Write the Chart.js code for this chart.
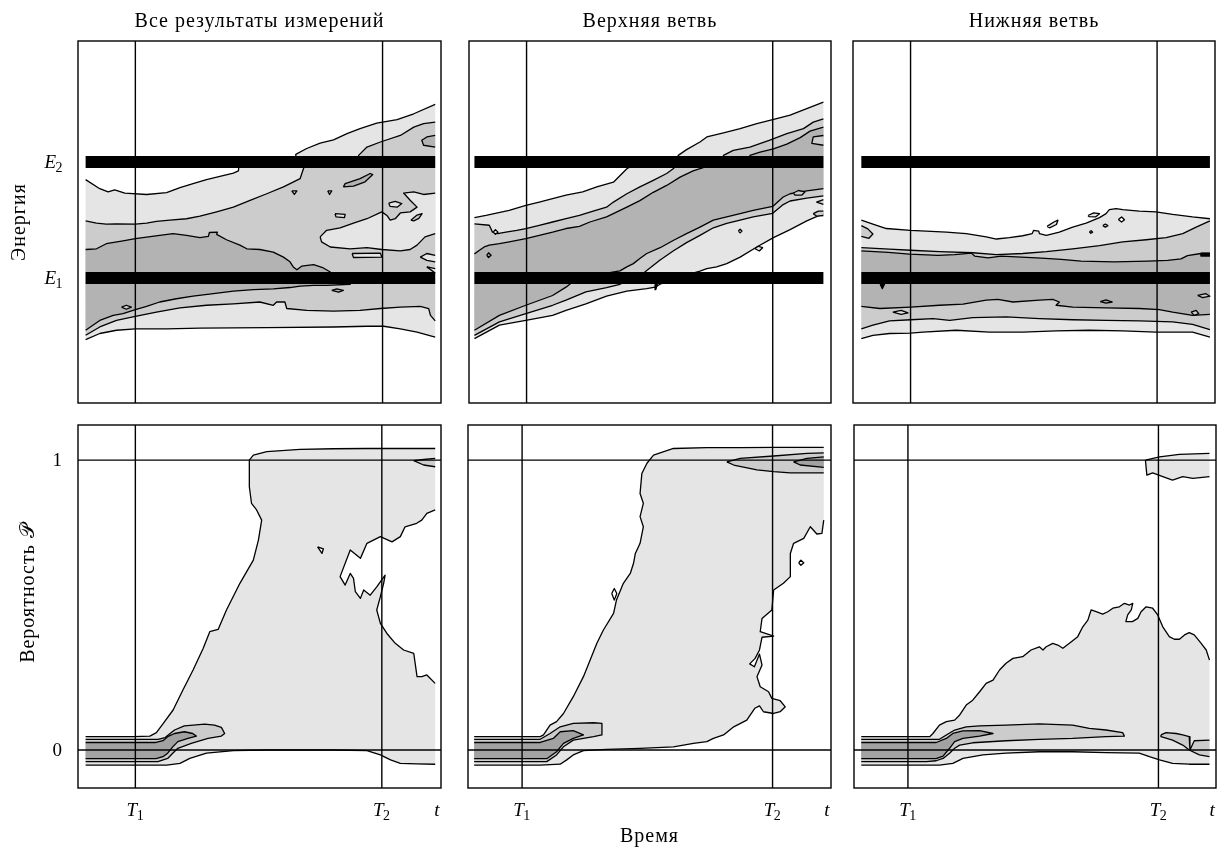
<!DOCTYPE html>
<html lang="ru">
<head>
<meta charset="utf-8">
<title>Энергия и вероятность</title>
<script src="https://cdn.jsdelivr.net/npm/chart.js@4/dist/chart.umd.min.js"></script>
<style>
  html, body { margin: 0; padding: 0; background: #fff; }
  #wrap { position: relative; width: 1219px; height: 847px; }
  #wrap canvas { position: absolute; left: 0; top: 0; }
</style>
</head>
<body>
<div id="wrap">
  <canvas id="c0" width="1219" height="847"></canvas>
  <canvas id="c1" width="1219" height="847"></canvas>
  <canvas id="c2" width="1219" height="847"></canvas>
  <canvas id="c3" width="1219" height="847"></canvas>
  <canvas id="c4" width="1219" height="847"></canvas>
  <canvas id="c5" width="1219" height="847"></canvas>
</div>
<script>
// time runs 0..100 across every frame, energy 0..100 up the top frames,
// probability is plotted as is in the bottom frames
const energyLevels = [34.5, 66.6]
const probLines = [0, 1]
const timeT1 = [15.8, 15.9, 15.9, 15.8, 14.9, 14.9]
const timeT2 = [83.9, 83.9, 84.0, 83.7, 83.9, 84.1]
const timeEnd = 98.9
const columnTitles = ['Все результаты измерений', 'Верхняя ветвь', 'Нижняя ветвь']

// ---- top left: all measurements ----
const p1LightTop = [[2.1, 61.7], [6.0, 59.2], [8.3, 58.3], [10.1, 58.9], [12.9, 58.0], [18.9, 57.6], [24.4, 58.1], [28.1, 59.5], [31.7, 60.6], [35.4, 61.7], [39.1, 62.6], [42.8, 63.5], [44.2, 64.1], [44.4, 66.5], [59.8, 66.5], [60.0, 68.7], [63.0, 70.3], [66.7, 71.8], [70.4, 72.7], [74.1, 74.4], [77.7, 75.8], [82.3, 77.3], [87.9, 78.3], [92.5, 79.9], [98.4, 82.5]]
const p1LightBottom = [[2.1, 17.5], [6.0, 19.2], [10.6, 20.1], [15.8, 20.5], [24.4, 20.5], [33.6, 20.7], [52.0, 20.8], [70.4, 21.0], [79.6, 21.2], [84.2, 21.2], [88.8, 20.5], [93.4, 19.6], [98.4, 18.2]]
const p1MidTop = [[2.1, 50.3], [5.1, 49.7], [7.8, 49.4], [10.6, 49.5], [15.8, 49.4], [18.9, 49.7], [21.6, 50.2], [25.3, 50.5], [29.9, 50.9], [33.6, 51.6], [38.2, 52.8], [42.8, 54.1], [47.4, 56.0], [52.0, 57.8], [56.6, 59.7], [61.2, 62.0], [62.1, 64.7], [63.0, 66.5], [77.3, 66.5], [77.3, 68.4], [79.6, 70.7], [83.3, 72.1], [88.8, 73.9], [92.5, 76.2], [95.2, 77.2], [98.4, 77.6]]
const p1MidBottom = [[2.1, 18.7], [6.0, 21.0], [10.6, 22.8], [15.8, 23.9], [21.6, 25.1], [28.1, 26.3], [35.4, 27.0], [42.8, 27.4], [50.1, 27.9], [53.8, 27.0], [54.7, 27.9], [57.0, 27.9], [57.5, 26.1], [63.0, 25.6], [70.4, 25.4], [77.7, 25.6], [83.3, 26.1], [88.8, 26.5], [94.3, 26.7], [96.6, 26.1], [97.1, 24.2], [98.4, 22.7]]
const p1DarkTop = [[2.1, 42.4], [5.1, 42.6], [7.8, 44.0], [12.4, 44.8], [15.8, 45.4], [22.5, 46.3], [26.2, 46.8], [29.9, 46.3], [33.6, 45.7], [35.9, 46.0], [36.2, 47.1], [38.4, 47.2], [38.2, 46.6], [40.9, 45.1], [44.6, 43.6], [46.5, 42.6], [50.1, 42.4], [53.8, 41.7], [56.6, 40.3], [58.4, 39.0], [59.3, 37.6], [60.3, 36.8], [61.6, 37.8], [64.9, 38.2], [67.6, 37.3], [69.5, 36.2], [70.4, 34.5], [75.0, 34.5], [75.0, 32.8]]
const p1DarkBottom = [[2.1, 20.1], [4.1, 21.5], [6.0, 22.8], [9.7, 24.2], [12.4, 24.7], [15.8, 25.8], [18.9, 26.7], [22.5, 27.9], [27.1, 28.8], [31.7, 29.5], [37.3, 30.2], [42.8, 30.9], [48.3, 31.3], [53.8, 31.5], [58.4, 31.9], [61.2, 32.3], [64.9, 32.5], [68.5, 32.5]]
const p1LightIslands = [
  [[66.7, 45.9], [68.5, 47.7], [72.2, 48.4], [75.9, 49.7], [79.6, 50.9], [83.7, 52.8], [85.1, 51.8], [86.0, 50.5], [87.4, 50.9], [88.8, 52.5], [91.5, 52.8], [93.4, 54.1], [91.5, 56.0], [89.7, 58.0], [92.5, 58.3], [95.2, 57.6], [98.4, 58.0], [98.4, 46.8], [95.6, 45.9], [93.4, 43.6], [91.5, 42.4], [88.8, 42.0], [83.7, 42.4], [79.6, 42.9], [75.0, 42.6], [69.5, 43.1], [67.1, 44.5]],
  [[85.6, 55.2], [87.4, 55.7], [89.2, 55.1], [87.9, 54.1], [86.0, 54.3]],
  [[58.9, 58.6], [60.3, 58.6], [59.6, 57.6]],
  [[68.8, 58.6], [69.9, 58.6], [69.3, 57.6]],
  [[70.8, 52.3], [73.6, 52.1], [73.4, 51.2], [71.1, 51.4]],
  [[75.5, 41.3], [83.3, 41.4], [83.7, 40.3], [75.9, 40.2]],
  [[96.1, 37.6], [98.4, 37.1], [98.4, 35.9]],
  [[94.3, 40.3], [96.1, 41.3], [98.4, 40.8], [98.4, 39.0], [96.1, 39.4]]
]
const p1MidIslands = [
  [[91.7, 50.5], [93.4, 51.9], [94.8, 52.3], [93.9, 51.0], [92.5, 50.3]],
  [[12.0, 26.5], [13.3, 27.0], [14.7, 26.5], [13.3, 25.9]]
]
const p1DarkIslands = [
  [[73.1, 59.7], [73.6, 60.6], [77.7, 62.0], [80.5, 63.4], [81.2, 63.1], [79.1, 61.1], [75.9, 59.9]],
  [[98.4, 73.9], [96.1, 73.5], [94.7, 72.6], [95.2, 71.2], [98.4, 70.7]],
  [[69.9, 31.1], [71.3, 31.5], [73.1, 31.1], [71.8, 30.6]]
]

// ---- top middle: upper branch ----
const p2LightTop = [[1.5, 51.2], [4.7, 51.8], [11.1, 53.2], [15.7, 54.6], [19.4, 55.5], [26.8, 57.4], [31.4, 58.3], [35.3, 59.7], [39.9, 61.0], [43.6, 64.7], [47.2, 66.6], [57.4, 66.6], [57.8, 68.4], [60.1, 70.0], [63.8, 72.1], [65.7, 73.5], [70.3, 74.6], [74.9, 75.8], [79.5, 77.2], [83.9, 78.3], [88.7, 79.5], [93.3, 81.3], [97.9, 83.1]]
const p2LightBottom = [[1.5, 17.8], [8.4, 21.5], [15.7, 22.8], [23.1, 24.2], [26.8, 25.6], [32.3, 27.4], [38.0, 29.5], [43.6, 30.9], [49.1, 31.6], [51.4, 32.0], [52.8, 32.8], [56.4, 34.3], [63.8, 36.4], [65.7, 37.1], [68.4, 37.6], [71.2, 38.5], [74.9, 40.3], [79.5, 43.1], [84.1, 45.7], [88.7, 47.9], [93.3, 50.3], [97.9, 52.3]]
const p2MidTop = [[1.5, 49.5], [5.6, 49.1], [6.5, 47.2], [7.9, 46.8], [10.2, 47.2], [13.2, 47.7], [15.7, 48.2], [19.4, 49.1], [23.1, 50.0], [26.8, 50.9], [30.5, 51.8], [34.3, 53.0], [38.0, 54.1], [39.9, 55.5], [43.6, 57.8], [47.2, 59.7], [50.9, 61.5], [54.6, 63.4], [56.4, 64.7], [58.3, 66.6], [70.3, 66.6], [70.3, 68.4], [73.0, 69.8], [77.6, 70.7], [83.1, 72.6], [87.8, 74.4], [92.4, 75.8], [95.1, 77.6], [97.9, 78.5]]
const p2MidBottom = [[1.5, 18.7], [8.4, 22.4], [15.7, 24.7], [23.1, 27.0], [26.8, 28.4], [32.3, 30.7], [38.0, 31.9], [41.7, 32.8], [47.2, 35.0], [49.1, 36.6], [52.8, 39.5], [56.4, 42.0], [60.1, 44.3], [63.8, 46.3], [67.5, 48.4], [71.2, 49.6], [74.9, 50.5], [78.5, 51.4], [83.9, 52.4], [86.8, 54.8], [88.7, 55.8], [93.3, 56.6], [97.9, 57.2]]
const p2DarkTop = [[1.5, 41.2], [2.9, 42.2], [4.2, 43.1], [5.6, 43.6], [8.4, 44.0], [11.1, 44.5], [15.7, 45.4], [19.4, 46.3], [23.1, 47.2], [26.8, 48.2], [30.5, 48.8], [33.4, 50.0], [38.0, 51.4], [43.6, 54.1], [47.2, 55.9], [50.9, 58.2], [54.6, 60.1], [58.3, 62.4], [61.9, 64.1], [64.7, 65.0], [66.0, 66.6], [77.6, 66.6], [77.6, 68.4], [80.4, 69.3], [84.1, 70.2], [87.8, 71.5], [91.5, 73.3], [94.2, 75.1], [97.9, 76.2]]
const p2DarkBottom = [[1.5, 20.1], [8.4, 24.2], [15.7, 27.0], [23.1, 29.7], [26.8, 32.0], [30.0, 34.5], [41.7, 36.5], [43.6, 37.6], [45.4, 38.5], [47.2, 39.9], [49.1, 41.3], [52.8, 42.9], [56.4, 44.9], [60.1, 46.8], [63.8, 48.6], [67.5, 50.5], [71.2, 51.4], [74.9, 52.3], [78.5, 53.2], [83.9, 54.3], [86.8, 56.9], [88.7, 57.8], [93.3, 58.6], [97.9, 59.2]]
const p2LightIslands = [
  [[6.7, 47.2], [7.3, 47.9], [8.0, 47.2], [7.3, 46.6]],
  [[79.0, 42.6], [79.9, 43.3], [81.1, 42.9], [80.2, 42.0]],
  [[74.4, 47.5], [74.9, 48.0], [75.4, 47.5], [74.9, 47.0]]
]
const p2MidIslands = [
  [[97.9, 73.9], [95.1, 73.5], [94.7, 71.7], [97.9, 71.2]],
  [[89.6, 58.0], [91.0, 58.7], [92.8, 58.3], [91.9, 57.4], [90.1, 57.4]],
  [[96.0, 55.5], [97.9, 56.2], [97.9, 54.9]],
  [[95.1, 52.3], [96.5, 53.0], [97.9, 53.0], [97.9, 51.8], [96.1, 51.6]]
]
const p2DeepIslands = [[[4.9, 40.8], [5.4, 41.5], [6.1, 40.8], [5.4, 40.2]]]
const p2BlackBits = [[[51.4, 32.8], [52.0, 32.8], [51.6, 31.3]]]

// ---- top right: lower branch ----
const p3LightTop = [[2.3, 50.5], [5.5, 49.4], [9.2, 48.2], [15.9, 47.7], [20.2, 47.5], [25.8, 47.2], [31.3, 46.8], [36.8, 45.9], [39.6, 45.3], [43.2, 45.7], [46.9, 46.2], [49.5, 46.8], [49.9, 47.7], [51.3, 47.5], [51.5, 46.8], [53.4, 46.3], [57.0, 47.2], [60.7, 48.6], [64.4, 49.7], [68.1, 51.2], [69.9, 52.3], [70.8, 53.4], [72.7, 53.7], [74.5, 53.4], [79.1, 53.0], [83.7, 52.8], [88.3, 52.1], [93.8, 51.4], [98.6, 50.9]]
const p3LightBottom = [[2.3, 17.8], [5.5, 18.7], [10.1, 19.2], [15.9, 19.3], [19.3, 19.6], [28.5, 20.1], [37.7, 19.6], [46.9, 19.6], [56.1, 19.9], [65.3, 20.1], [74.5, 19.9], [83.7, 19.6], [88.3, 19.6], [93.8, 19.6], [98.6, 18.2]]
const p3MidTop = [[2.3, 42.9], [10.1, 42.5], [15.9, 42.2], [23.9, 41.8], [33.1, 41.5], [39.6, 41.0], [46.9, 41.3], [53.4, 41.8], [60.7, 42.6], [68.1, 43.5], [74.5, 44.5], [81.0, 45.1], [86.5, 45.7], [91.1, 46.8], [94.8, 48.6], [98.6, 50.3]]
const p3MidBottom = [[2.3, 20.5], [5.5, 21.5], [10.1, 22.7], [15.9, 23.0], [22.1, 23.3], [26.7, 22.8], [33.1, 23.6], [42.3, 23.8], [51.5, 23.3], [60.7, 23.0], [69.9, 22.8], [79.1, 22.7], [88.3, 22.4], [93.8, 21.7], [98.6, 20.3]]
const p3DarkTop = [[2.3, 42.0], [9.7, 41.6], [15.6, 41.1], [23.5, 40.8], [28.1, 41.0], [32.7, 41.4], [33.6, 40.6], [37.3, 40.1], [40.9, 40.6], [46.5, 40.3], [52.0, 40.0], [57.5, 39.7], [63.0, 39.2], [72.2, 39.0], [81.4, 39.2], [86.9, 39.4], [90.6, 39.8], [92.4, 40.7], [96.1, 41.3], [98.6, 41.3]]
const p3DarkBottom = [[2.3, 26.7], [7.4, 26.1], [15.9, 26.5], [23.9, 27.0], [30.4, 27.3], [36.8, 28.4], [40.0, 28.6], [44.2, 27.9], [51.5, 28.4], [55.2, 28.6], [57.0, 27.9], [56.1, 27.0], [60.7, 26.5], [69.9, 26.3], [79.1, 26.1], [84.6, 25.8], [88.3, 25.1], [93.8, 24.2], [98.6, 24.5]]
const p3WhiteIslands = [
  [[73.3, 50.7], [74.2, 51.4], [75.0, 50.6], [74.2, 50.0]],
  [[69.0, 49.0], [69.7, 49.4], [70.4, 49.0], [69.7, 48.6]],
  [[65.3, 47.3], [65.8, 47.6], [66.2, 47.2], [65.7, 46.9]]
]
const p3LightIslands = [
  [[53.6, 48.8], [55.5, 50.0], [56.6, 50.5], [56.2, 49.3], [54.3, 48.4]],
  [[64.9, 51.8], [66.5, 52.5], [68.1, 52.3], [67.0, 51.4], [65.2, 51.5]],
  [[11.0, 25.1], [13.3, 25.6], [15.2, 24.9], [13.3, 24.5]]
]
const p3MidIslands = [
  [[2.3, 49.0], [4.1, 48.1], [5.5, 46.7], [4.4, 45.5], [2.3, 46.0]],
  [[95.2, 29.7], [97.5, 30.2], [98.6, 29.5], [96.6, 29.1]],
  [[93.4, 25.1], [94.8, 25.6], [95.5, 24.7], [94.3, 24.2]]
]
const p3DeepIslands = [[[68.3, 28.0], [69.9, 28.5], [71.6, 27.9], [69.9, 27.6]]]
const p3BlackBits = [
  [[96.1, 41.4], [98.6, 41.4], [98.6, 40.6], [96.1, 40.6]],
  [[7.5, 32.8], [8.7, 32.8], [8.1, 31.6]]
]

// ---- bottom left: probability, all measurements ----
const p4LightOutline = [[2.1, 0.046], [15.2, 0.046], [19.8, 0.048], [21.6, 0.060], [23.5, 0.092], [26.2, 0.138], [28.9, 0.207], [31.7, 0.276], [34.5, 0.351], [36.3, 0.408], [38.6, 0.416], [40.9, 0.483], [44.6, 0.575], [48.3, 0.655], [49.7, 0.724], [50.6, 0.793], [49.2, 0.828], [47.8, 0.851], [47.2, 0.908], [47.2, 1.0], [48.3, 1.017], [52.0, 1.029], [61.2, 1.037], [70.4, 1.039], [79.6, 1.040], [88.8, 1.040], [98.4, 1.040],
  [98.4, 0.828], [96.1, 0.816], [94.7, 0.793], [93.3, 0.782], [90.1, 0.770], [88.8, 0.736], [86.5, 0.718], [83.3, 0.736], [79.6, 0.713], [77.8, 0.661], [75.0, 0.690], [72.2, 0.598], [73.6, 0.569], [75.0, 0.609], [75.9, 0.592], [76.4, 0.546], [77.8, 0.523], [78.7, 0.552], [80.5, 0.534], [82.3, 0.563], [84.6, 0.603], [84.2, 0.575], [83.3, 0.529], [82.3, 0.483], [83.3, 0.437], [85.1, 0.402], [87.4, 0.368], [89.7, 0.345], [92.5, 0.333], [93.4, 0.253], [94.7, 0.253], [96.1, 0.259], [98.4, 0.230],
  [98.4, -0.049], [93.3, -0.048], [88.8, -0.046], [86.1, -0.034], [83.3, -0.017], [79.6, -0.002], [70.4, 0], [52.0, 0], [42.8, -0.002], [35.4, -0.011], [30.8, -0.029], [28.1, -0.046], [24.4, -0.052], [15.2, -0.052], [2.1, -0.052]]
const p4MidOutline = [[2.1, 0.037], [22.0, 0.037], [24.0, 0.043], [25.2, 0.055], [26.6, 0.069], [29.3, 0.083], [34.9, 0.089], [37.6, 0.086], [39.5, 0.078], [40.4, 0.057], [39.5, 0.048], [35.8, 0.040], [31.2, 0.023], [27.5, 0.006], [26.1, -0.011], [24.7, -0.029], [22.0, -0.040], [2.1, -0.040]]
const p4DeepOutline = [[2.1, 0.026], [21.5, 0.026], [23.4, 0.032], [24.7, 0.046], [26.6, 0.057], [29.3, 0.063], [31.6, 0.057], [32.6, 0.048], [30.3, 0.040], [27.5, 0.029], [26.1, 0.011], [24.7, -0.011], [23.4, -0.023], [21.5, -0.030], [2.1, -0.030]]
const p4WhiteIslands = [[[66.0, 0.701], [67.6, 0.694], [67.2, 0.678]]]
const p4MidIslands = [[[92.5, 0.998], [95.2, 1.002], [98.4, 1.006], [98.4, 0.977], [95.2, 0.983]]]

// ---- bottom middle: probability, upper branch ----
const p5LightOutline = [[1.7, 0.046], [19.9, 0.046], [20.8, 0.052], [22.6, 0.086], [24.4, 0.098], [26.3, 0.126], [29.0, 0.184], [31.8, 0.253], [35.5, 0.368], [37.3, 0.414], [40.1, 0.471], [40.9, 0.517], [42.8, 0.575], [44.7, 0.609], [45.6, 0.644], [46.1, 0.678], [47.4, 0.713], [48.3, 0.770], [47.4, 0.805], [48.3, 0.851], [47.4, 0.885], [47.9, 0.954], [49.3, 0.989], [51.1, 1.017], [56.6, 1.040], [65.8, 1.043], [75.0, 1.043], [84.2, 1.044], [98.0, 1.044],
  [98.0, 0.793], [97.5, 0.747], [96.1, 0.745], [94.3, 0.770], [92.5, 0.730], [89.7, 0.713], [88.8, 0.678], [88.8, 0.598], [86.9, 0.575], [84.2, 0.552], [83.7, 0.483], [81.0, 0.454], [80.5, 0.408], [84.2, 0.393], [81.0, 0.389], [80.3, 0.345], [79.1, 0.316], [77.6, 0.297], [78.9, 0.287], [80.3, 0.331], [81.0, 0.293], [79.6, 0.253], [80.5, 0.218], [82.8, 0.201], [83.7, 0.178], [86.0, 0.170], [87.4, 0.149], [86.0, 0.132], [84.2, 0.126], [81.4, 0.132], [80.3, 0.152], [79.0, 0.144], [76.8, 0.103], [73.2, 0.080], [70.4, 0.052], [67.6, 0.040], [65.8, 0.029], [62.1, 0.023], [56.6, 0.011], [47.4, 0.006], [38.2, 0.002], [31.8, -0.002], [29.0, -0.017], [27.2, -0.034], [25.4, -0.049], [19.9, -0.052], [1.7, -0.052]]
const p5MidOutline = [[1.7, 0.037], [19.9, 0.037], [22.6, 0.057], [25.4, 0.080], [29.0, 0.092], [34.6, 0.094], [36.9, 0.092], [36.9, 0.052], [34.6, 0.046], [29.0, 0.034], [26.3, 0.011], [24.4, -0.017], [21.7, -0.040], [1.7, -0.040]]
const p5DeepOutline = [[1.7, 0.026], [19.9, 0.026], [23.5, 0.040], [25.4, 0.063], [29.0, 0.067], [31.8, 0.052], [29.0, 0.040], [26.3, 0.023], [24.4, -0.006], [21.7, -0.030], [1.7, -0.030]]
const p5MidIslands = [[[71.3, 0.994], [75.0, 1.006], [84.2, 1.014], [93.4, 1.023], [98.0, 1.025], [98.0, 0.956], [88.8, 0.956], [84.2, 0.960], [79.6, 0.966], [73.2, 0.983]]]
const p5DeepIslands = [[[89.7, 0.994], [93.4, 1.006], [98.0, 1.011], [98.0, 0.975], [91.5, 0.983]]]
const p5WhiteIslands = [
  [[39.6, 0.540], [40.3, 0.557], [41.0, 0.540], [40.3, 0.517]],
  [[91.1, 0.646], [91.7, 0.655], [92.5, 0.646], [91.7, 0.637]]
]

// ---- bottom right: probability, lower branch ----
const p6LightOutline = [[2.0, 0.046], [20.9, 0.046], [21.8, 0.057], [23.6, 0.086], [25.5, 0.098], [27.8, 0.103], [29.2, 0.121], [31.0, 0.155], [32.8, 0.172], [34.7, 0.201], [36.5, 0.230], [38.4, 0.241], [40.2, 0.276], [42.0, 0.299], [43.9, 0.316], [46.6, 0.322], [48.9, 0.345], [51.2, 0.356], [52.2, 0.345], [53.1, 0.356], [54.9, 0.368], [56.3, 0.362], [57.7, 0.351], [59.5, 0.368], [61.8, 0.391], [63.2, 0.425], [64.6, 0.448], [65.5, 0.483], [66.9, 0.477], [68.7, 0.469], [70.1, 0.477], [71.5, 0.489], [73.3, 0.494], [74.7, 0.506], [76.1, 0.500], [77.0, 0.506], [76.6, 0.483], [75.6, 0.466], [75.1, 0.443], [76.9, 0.443], [78.4, 0.454], [79.3, 0.477], [80.7, 0.494], [82.5, 0.489], [83.9, 0.466], [85.3, 0.425], [87.1, 0.391], [88.5, 0.382], [89.9, 0.382], [91.3, 0.397], [92.6, 0.405], [94.0, 0.397], [95.9, 0.368], [97.3, 0.345], [98.2, 0.310],
  [98.2, -0.049], [92.6, -0.049], [88.0, -0.046], [84.4, -0.034], [81.6, -0.023], [78.8, -0.011], [69.6, -0.009], [60.4, -0.006], [51.2, -0.006], [42.0, -0.011], [35.6, -0.017], [30.1, -0.029], [27.3, -0.046], [23.6, -0.052], [2.0, -0.052]]
const p6MidOutline = [[2.0, 0.037], [23.6, 0.037], [25.5, 0.052], [27.8, 0.069], [31.0, 0.080], [34.7, 0.083], [42.0, 0.086], [51.2, 0.090], [60.4, 0.086], [65.0, 0.075], [69.6, 0.069], [74.2, 0.060], [74.7, 0.048], [69.6, 0.046], [60.4, 0.040], [51.2, 0.037], [42.0, 0.032], [32.8, 0.025], [29.2, 0.017], [27.8, 0.006], [26.4, -0.011], [24.6, -0.029], [22.7, -0.037], [20.0, -0.040], [2.0, -0.040]]
const p6DeepOutline = [[2.0, 0.026], [22.7, 0.026], [25.5, 0.040], [27.3, 0.057], [30.1, 0.066], [34.7, 0.067], [38.4, 0.057], [34.7, 0.048], [30.1, 0.040], [27.8, 0.029], [26.4, 0.006], [24.6, -0.021], [22.7, -0.030], [2.0, -0.030]]
const p6LightIslands = [[[80.5, 1.0], [84.4, 1.011], [89.9, 1.020], [98.2, 1.023], [98.2, 0.943], [93.6, 0.937], [90.8, 0.943], [89.4, 0.937], [88.0, 0.931], [85.3, 0.943], [82.5, 0.956], [80.9, 0.948]]]
const p6MidIslands = [[[84.8, 0.052], [86.2, 0.060], [89.0, 0.057], [90.8, 0.052], [92.6, 0.046], [92.8, 0.000], [94.0, 0.032], [98.2, 0.034], [98.2, -0.023], [95.4, -0.017], [92.6, 0.000], [90.8, 0.017], [88.0, 0.034], [84.8, 0.046]]]

// ---------- drawing ----------
const SERIF = '"Liberation Serif", "Times New Roman", "DejaVu Serif", serif'
const levelColors = {
  white: '#ffffff',
  light: '#e5e5e5',
  mid: '#cccccc',
  dark: '#b3b3b3',
  deep: '#a2a2a2',
  black: '#000000'
}

const band = (top, bottom) => top.concat(bottom.slice().reverse())
const each = (level, list) => list.map(pts => [level, pts])

const panels = [
  {
    frame: { left: 78, top: 41, right: 441, bottom: 403 },
    y: [0, 100],
    layers: [
      ['light', band(p1LightTop, p1LightBottom)],
      ['mid', band(p1MidTop, p1MidBottom)],
      ['dark', band(p1DarkTop, p1DarkBottom)],
      ...each('light', p1LightIslands),
      ...each('mid', p1MidIslands),
      ...each('dark', p1DarkIslands)
    ]
  },
  {
    frame: { left: 469, top: 41, right: 831, bottom: 403 },
    y: [0, 100],
    layers: [
      ['light', band(p2LightTop, p2LightBottom)],
      ['mid', band(p2MidTop, p2MidBottom)],
      ['dark', band(p2DarkTop, p2DarkBottom)],
      ...each('light', p2LightIslands),
      ...each('mid', p2MidIslands),
      ...each('deep', p2DeepIslands),
      ...each('black', p2BlackBits)
    ]
  },
  {
    frame: { left: 853, top: 41, right: 1215, bottom: 403 },
    y: [0, 100],
    layers: [
      ['light', band(p3LightTop, p3LightBottom)],
      ['mid', band(p3MidTop, p3MidBottom)],
      ['dark', band(p3DarkTop, p3DarkBottom)],
      ...each('white', p3WhiteIslands),
      ...each('light', p3LightIslands),
      ...each('mid', p3MidIslands),
      ...each('deep', p3DeepIslands),
      ...each('black', p3BlackBits)
    ]
  },
  {
    frame: { left: 78, top: 425, right: 441, bottom: 788 },
    y: [-0.131, 1.121],
    layers: [
      ['light', p4LightOutline],
      ['mid', p4MidOutline],
      ['deep', p4DeepOutline],
      ...each('white', p4WhiteIslands),
      ...each('mid', p4MidIslands)
    ]
  },
  {
    frame: { left: 468, top: 425, right: 831, bottom: 788 },
    y: [-0.131, 1.121],
    layers: [
      ['light', p5LightOutline],
      ['mid', p5MidOutline],
      ['deep', p5DeepOutline],
      ...each('mid', p5MidIslands),
      ...each('deep', p5DeepIslands),
      ...each('white', p5WhiteIslands)
    ]
  },
  {
    frame: { left: 854, top: 425, right: 1216, bottom: 788 },
    y: [-0.131, 1.121],
    layers: [
      ['light', p6LightOutline],
      ['mid', p6MidOutline],
      ['deep', p6DeepOutline],
      ...each('light', p6LightIslands),
      ...each('mid', p6MidIslands)
    ]
  }
]

function setFont (ctx, size, italic) {
  ctx.font = (italic ? 'italic ' : '') + size + 'px ' + SERIF
}

// plain text set a little wider, as in the figure
function wideText (ctx, text, x, y) {
  setFont(ctx, 20)
  ctx.letterSpacing = '1px'
  ctx.textAlign = 'center'
  ctx.textBaseline = 'alphabetic'
  ctx.fillText(text, x, y)
  ctx.letterSpacing = '0px'
}

// italic letter with an upright subscript, e.g. E2, T1
function mathLabel (ctx, letter, sub, x, y, align) {
  setFont(ctx, 19, true)
  const w1 = ctx.measureText(letter).width
  setFont(ctx, 14)
  const w2 = sub ? ctx.measureText(sub).width : 0
  const total = w1 + w2
  const x0 = align === 'right' ? x - total : align === 'center' ? x - total / 2 : x
  ctx.textAlign = 'left'
  ctx.textBaseline = 'alphabetic'
  setFont(ctx, 19, true)
  ctx.fillText(letter, x0, y)
  if (sub) {
    setFont(ctx, 14)
    ctx.fillText(sub, x0 + w1 - 0.5, y + 4)
  }
}

function decorPlugin (i) {
  return {
    id: 'decor' + i,
    afterDraw (chart) {
      const { ctx, chartArea: a } = chart
      const xs = chart.scales.x
      const ys = chart.scales.y
      ctx.save()
      ctx.strokeStyle = '#000'
      ctx.lineWidth = 1.4
      ctx.strokeRect(a.left, a.top, a.right - a.left, a.bottom - a.top)
      ctx.fillStyle = '#000'

      if (i < 3) wideText(ctx, columnTitles[i], (a.left + a.right) / 2, 27)
      if (i === 0) {
        energyLevels.forEach((e, k) => {
          mathLabel(ctx, 'E', String(k + 1), a.left - 15, ys.getPixelForValue(e) + 6, 'right')
        })
        ctx.save()
        ctx.translate(25, 222)
        ctx.rotate(-Math.PI / 2)
        wideText(ctx, 'Энергия', 0, 0)
        ctx.restore()
      }
      if (i === 3) {
        setFont(ctx, 19)
        ctx.textAlign = 'right'
        ctx.textBaseline = 'alphabetic'
        probLines.forEach(p => {
          ctx.fillText(String(p), a.left - 16, ys.getPixelForValue(p) + 6)
        })
        ctx.save()
        ctx.translate(34, 593)
        ctx.rotate(-Math.PI / 2)
        wideText(ctx, 'Вероятность 𝒫', 0, 0)
        ctx.restore()
      }
      if (i >= 3) {
        mathLabel(ctx, 'T', '1', xs.getPixelForValue(timeT1[i]), 816, 'center')
        mathLabel(ctx, 'T', '2', xs.getPixelForValue(timeT2[i]), 816, 'center')
        mathLabel(ctx, 't', '', xs.getPixelForValue(timeEnd), 816, 'center')
      }
      if (i === 4) wideText(ctx, 'Время', (a.left + a.right) / 2, 842)
      ctx.restore()
    }
  }
}

// split a closed outline into the runs that are really contour lines:
// vertical pieces lying on the first or last time column are left out
function contourRuns (ring, minX, maxX) {
  const runs = []
  let cur = [ring[0]]
  for (let k = 1; k < ring.length; k++) {
    const a = ring[k - 1]
    const b = ring[k]
    const onEdge = Math.abs(a[0] - b[0]) < 0.01 &&
      (Math.abs(a[0] - minX) < 0.05 || Math.abs(a[0] - maxX) < 0.05)
    if (onEdge) {
      if (cur.length > 1) runs.push(cur)
      cur = [b]
    } else {
      cur.push(b)
    }
  }
  if (cur.length > 1) runs.push(cur)
  return runs
}

const toXY = pts => pts.map(([x, y]) => ({ x, y }))

function buildPanel (spec, i) {
  const f = spec.frame
  const xsAll = spec.layers.flatMap(l => l[1].map(p => p[0]))
  const minX = Math.min(...xsAll)
  const maxX = Math.max(...xsAll)
  const [yMin, yMax] = spec.y

  const line = (pts, width) => ({
    data: toXY(pts),
    fill: false,
    borderColor: '#000',
    borderWidth: width,
    borderCapStyle: 'butt',
    borderJoinStyle: 'round',
    pointRadius: 0,
    tension: 0,
    clip: false
  })

  const datasets = []
  spec.layers.forEach(([level, pts]) => {
    const ring = pts.concat([pts[0]])
    datasets.push({
      data: toXY(ring),
      fill: 'shape',
      backgroundColor: levelColors[level],
      borderColor: 'rgba(0,0,0,0)',
      borderWidth: 1,
      pointRadius: 0,
      tension: 0,
      clip: false
    })
    contourRuns(ring, minX, maxX).forEach(run => datasets.push(line(run, 1.3)))
  })

  if (i < 3) {
    energyLevels.forEach(e => datasets.push(line([[minX, e], [maxX, e]], 12)))
  } else {
    probLines.forEach(p => datasets.push(line([[0, p], [100, p]], 1.4)))
  }
  datasets.push(line([[timeT1[i], yMin], [timeT1[i], yMax]], 1.4))
  datasets.push(line([[timeT2[i], yMin], [timeT2[i], yMax]], 1.4))

  // eslint-disable-next-line no-new
  new Chart(document.getElementById('c' + i), {
    type: 'line',
    data: { datasets: datasets.reverse() },
    options: {
      responsive: false,
      animation: false,
      events: [],
      layout: {
        padding: { left: f.left, top: f.top, right: 1219 - f.right, bottom: 847 - f.bottom }
      },
      scales: {
        x: { type: 'linear', min: 0, max: 100, display: false },
        y: { type: 'linear', min: yMin, max: yMax, display: false }
      },
      plugins: {
        legend: { display: false },
        tooltip: { enabled: false }
      }
    },
    plugins: [decorPlugin(i)]
  })
}

panels.forEach(buildPanel)
</script>
</body>
</html>
